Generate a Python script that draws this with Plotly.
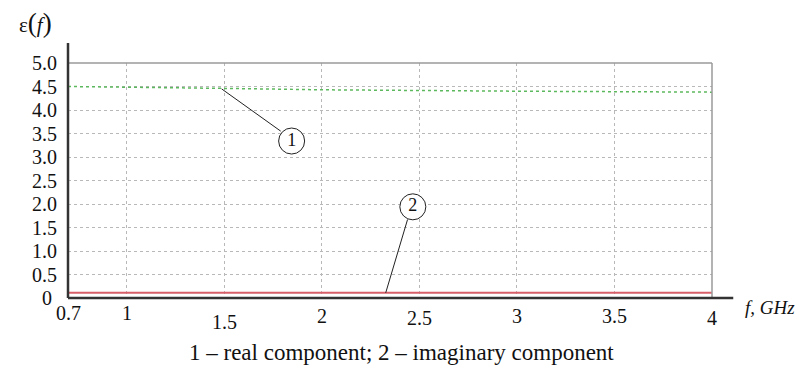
import plotly.graph_objects as go

# Data
freq = [0.7, 1.0, 1.5, 2.0, 2.5, 3.0, 3.5, 4.0]
eps_real = [4.50, 4.49, 4.46, 4.43, 4.41, 4.40, 4.39, 4.38]
eps_imag = [0.11, 0.11, 0.11, 0.11, 0.11, 0.11, 0.11, 0.11]

x_ticks = [0.7, 1, 1.5, 2, 2.5, 3, 3.5, 4]
x_tick_labels = ["0.7", "1", "1.5", "2", "2.5", "3", "3.5", "4"]
x_label_y = [-0.064, -0.064, -0.102, -0.077, -0.085, -0.077, -0.077, -0.085]
y_ticks = [0, 0.5, 1.0, 1.5, 2.0, 2.5, 3.0, 3.5, 4.0, 4.5, 5.0]
y_tick_labels = ["0 ", "0.5", "1.0", "1.5", "2.0", "2.5", "3.0", "3.5", "4.0", "4.5", "5.0"]

# callouts: label, circle position, leader end on curve
callout_labels = ["1", "2"]
callout_x = [1.846, 2.467]
callout_y = [3.34, 1.94]
leader_start_x = [1.79, 2.44]
leader_start_y = [3.55, 1.67]
leader_end_x = [1.487, 2.328]
leader_end_y = [4.45, 0.11]

FONT = "Liberation Serif, Times New Roman, serif"

fig = go.Figure()
fig.add_trace(go.Scatter(x=freq, y=eps_real, mode="lines",
                         line=dict(color="#5cb85c", width=1.5, dash="dot"),
                         showlegend=False, cliponaxis=False))
fig.add_trace(go.Scatter(x=freq, y=eps_imag, mode="lines",
                         line=dict(color="#d9606a", width=2),
                         showlegend=False))
for i in range(len(callout_labels)):
    fig.add_trace(go.Scatter(x=[leader_start_x[i], leader_end_x[i]],
                             y=[leader_start_y[i], leader_end_y[i]],
                             mode="lines", line=dict(color="#222", width=1),
                             showlegend=False))
fig.add_trace(go.Scatter(x=callout_x, y=callout_y, mode="markers+text",
                         text=callout_labels, textposition="middle center",
                         textfont=dict(family=FONT, size=18, color="#111"),
                         marker=dict(symbol="circle", size=26, color="white",
                                     line=dict(color="#222", width=1)),
                         showlegend=False, cliponaxis=False))

fig.update_xaxes(range=[0.7, 4], tickvals=x_ticks[1:-1], showticklabels=False,
                 showgrid=True, gridcolor="#b8b8b8", griddash="dot", gridwidth=1,
                 showline=False, zeroline=False, ticks="")
fig.update_yaxes(range=[0, 5], tickvals=y_ticks, ticktext=y_tick_labels,
                 tickfont=dict(family=FONT, size=20, color="#111"),
                 showgrid=True, gridcolor="#b8b8b8", griddash="dot", gridwidth=1,
                 showline=False, zeroline=False, ticks="", ticklabelstandoff=10)

for xv, lab, yv in zip(x_ticks, x_tick_labels, x_label_y):
    fig.add_annotation(x=xv, y=yv, xref="x", yref="paper", text=lab, showarrow=False,
                       yanchor="middle",
                       font=dict(family=FONT, size=20, color="#111"))

shapes = [
    # frame top and right
    dict(type="line", xref="paper", yref="paper", x0=0, x1=1, y0=1, y1=1,
         line=dict(color="#9a9a9a", width=1.5)),
    dict(type="line", xref="paper", yref="paper", x0=1, x1=1, y0=0, y1=1,
         line=dict(color="#9a9a9a", width=1.5)),
    # left axis (extends above)
    dict(type="line", xref="paper", yref="paper", x0=0, x1=0, y0=0, y1=1.085,
         line=dict(color="#333", width=2.5)),
    # bottom axis (extends right)
    dict(type="line", xref="paper", yref="paper", x0=0, x1=1.033, y0=0, y1=0,
         line=dict(color="#333", width=2.5)),
]
fig.update_layout(shapes=shapes)

fig.add_annotation(xref="paper", yref="paper", x=1.048, y=-0.04, xanchor="left",
                   yanchor="middle",
                   text="<i>f, GHz</i>", showarrow=False,
                   font=dict(family=FONT, size=19, color="#111"))
fig.add_annotation(xref="paper", yref="paper", x=-0.05, y=1.17, xanchor="center",
                   yanchor="middle",
                   text="ε<span style='font-size:27px'>(</span><i>f</i><span style='font-size:27px'>)</span>",
                   showarrow=False, font=dict(family=FONT, size=21, color="#111"))
fig.add_annotation(xref="paper", yref="paper", x=0.5, y=-0.0, xanchor="center",
                   xshift=(401 - (68 + 644 / 2)), yshift=-54, yanchor="middle",
                   text="1 – real component; 2 – imaginary component",
                   showarrow=False, font=dict(family=FONT, size=23, color="#111"))

fig.update_layout(width=799, height=377,
                  font=dict(family=FONT),
                  margin=dict(l=68, r=87, t=63, b=79),
                  plot_bgcolor="white", paper_bgcolor="white")

fig.write_html("out.html")
